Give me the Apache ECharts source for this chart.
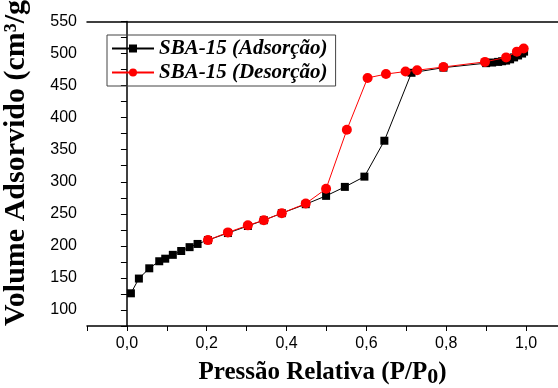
<!DOCTYPE html>
<html><head><meta charset="utf-8">
<script src="https://cdn.jsdelivr.net/npm/echarts@6/dist/echarts.min.js"></script>
<style>html,body{margin:0;padding:0;background:#fff}#c{width:558px;height:388px}</style>
</head><body><div id="c"></div>
<script>
const adsX = [0.01,0.03,0.056,0.081,0.096,0.115,0.136,0.157,0.177,0.203,0.253,0.303,0.343,0.388,0.448,0.499,0.546,0.595,0.645,0.713,0.793,0.90,0.915,0.93,0.94,0.95,0.96,0.97,0.98,0.99,0.995];
const adsY = [126,149,165,176,180,186,192,198,203,209,220,231,240,251,265,278,292,308,364,470,478,485,486,487,488,489,491,494,497,500,503];
const desX = [0.203,0.253,0.303,0.343,0.388,0.448,0.499,0.551,0.603,0.649,0.698,0.727,0.793,0.897,0.950,0.977,0.994];
const desY = [209,221,232,240,251,266,289,381,462,468,472,474,479,487,494,503,508];
const seriesNames = ['SBA-15 (Adsorção)','SBA-15 (Desorção)'];
const xTitle = ['Pressão Relativa (P/P','0',')'];
const yTitle = 'Volume Adsorvido (cm³/g)';

const chart = echarts.init(document.getElementById('c'));
const serif = '"Liberation Serif","Times New Roman",serif';
const sans = '"Liberation Sans",Arial,sans-serif';
chart.setOption({
  animation:false,
  grid:{left:87,right:0,top:21.5,bottom:62,containLabel:false,outerBoundsMode:'none'},
  legend:{
    orient:'vertical', left:107, top:35,
    data:seriesNames,
    borderColor:'#444', borderWidth:1, padding:[3,8,3,4],
    itemWidth:42, itemHeight:10, itemGap:3,
    textStyle:{fontFamily:serif, fontStyle:'italic', fontWeight:'bold', fontSize:21, color:'#000'}
  },
  xAxis:[{
    type:'value', min:-0.1, max:1.08, interval:0.1,
    axisLine:{lineStyle:{color:'#000',width:1.5}},
    axisTick:{length:5,lineStyle:{color:'#000'}},
    splitLine:{show:false},
    axisLabel:{fontFamily:sans, fontSize:16, color:'#000', margin:10, showMaxLabel:false,
      formatter:v=>{const k=Math.round(v*10); return (k>=0 && k%2===0)?(k/10).toFixed(1).replace('.',','):'';}},
    name: '{a|'+xTitle[0]+'}{b|'+xTitle[1]+'}{a|'+xTitle[2]+'}',
    nameLocation:'middle', nameGap:31,
    nameTextStyle:{rich:{
      a:{fontFamily:serif,fontWeight:'bold',fontSize:25,color:'#000'},
      b:{fontFamily:serif,fontWeight:'bold',fontSize:22,color:'#000',padding:[9,0,0,0]}
    }}
  },{
    type:'value', position:'top', min:-0.1, max:1.08,
    axisLine:{show:true,lineStyle:{color:'#000',width:1.5}},
    axisTick:{show:false}, axisLabel:{show:false}, splitLine:{show:false}
  }],
  yAxis:{
    type:'value', min:75, max:550, interval:25,
    axisLine:{show:true,lineStyle:{color:'#000',width:1.5}},
    axisTick:{show:true,length:6,lineStyle:{color:'#000'}},
    splitLine:{show:false},
    axisLabel:{fontFamily:sans, fontSize:16, color:'#000', margin:10,
      formatter:v=>(v%50===0)?String(v):''}
  },
  graphic:[{
    type:'text', x:16, y:158, rotation:Math.PI/2,
    style:{text:yTitle, fontFamily:serif, fontWeight:'bold', fontSize:30, fill:'#000', align:'center', verticalAlign:'middle'}
  }],
  series:[{
    name:seriesNames[0], type:'line', data:adsX.map((x,i)=>[x,adsY[i]]),
    symbol:'rect', symbolSize:8, itemStyle:{color:'#000'}, lineStyle:{color:'#000',width:1}, z:2
  },{
    name:seriesNames[1], type:'line', data:desX.map((x,i)=>[x,desY[i]]),
    symbol:'circle', symbolSize:10, itemStyle:{color:'#ff0000'}, lineStyle:{color:'#ff0000',width:1}, z:3
  }]
});
</script></body></html>
